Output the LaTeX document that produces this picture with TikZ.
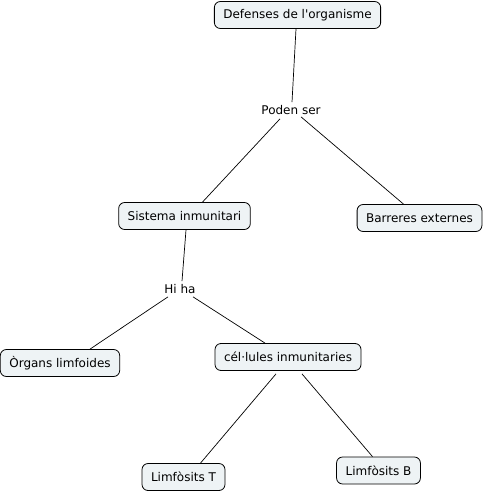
\documentclass[tikz,border=0pt]{standalone}
\usepackage{fontspec}
\setmainfont{DejaVu Sans}
\definecolor{boxfill}{HTML}{EEF3F5}
\begin{document}
\begin{tikzpicture}[x=1pt,y=-1pt,
  concept/.style={draw=black, fill=boxfill, rounded corners=6pt, line width=0.8pt,
    minimum height=27pt, inner xsep=9pt, inner ysep=2pt, font=\fontsize{12}{14}\selectfont},
  phrase/.style={inner sep=1pt, font=\fontsize{12}{14}\selectfont},
  link/.style={draw=black, line width=0.7pt}]
\useasboundingbox (0,0) rectangle (484,492);
\node[concept] (def) at (297.5,15) {Defenses de l\textquotesingle organisme};
\node[phrase] (poden) at (291,110) {Poden ser};
\node[concept] (sis) at (184.5,216) {Sistema inmunitari};
\node[concept] (barr) at (419.5,218) {Barreres externes};
\node[phrase] (hi) at (180,289) {Hi ha};
\node[concept] (org) at (60,363) {Òrgans limfoides};
\node[concept] (cel) at (288,357) {cél·lules inmunitaries};
\node[concept] (lt) at (183.5,477) {Limfòsits T};
\node[concept] (lb) at (378.5,470.5) {Limfòsits B};
\path[link] ([xshift=-1.5pt]def.south) -- ([xshift=1pt,yshift=2pt]poden.north);
\path[link] ([xshift=-11pt,yshift=-3pt]poden.south) -- ([xshift=18pt]sis.north);
\path[link] ([xshift=10pt,yshift=-1pt]poden.south) -- ([xshift=-16pt]barr.north);
\path[link] ([xshift=1.5pt]sis.south) -- ([xshift=2pt,yshift=2pt]hi.north);
\path[link] ([xshift=-12pt,yshift=-2pt]hi.south) -- ([xshift=30pt]org.north);
\path[link] ([xshift=13pt,yshift=-2pt]hi.south) -- ([xshift=-23pt]cel.north);
\path[link] ([xshift=-12pt,yshift=-3pt]cel.south) -- ([xshift=17pt]lt.north);
\path[link] ([xshift=14pt,yshift=-3pt]cel.south) -- ([xshift=-6pt]lb.north);
\end{tikzpicture}
\end{document}
